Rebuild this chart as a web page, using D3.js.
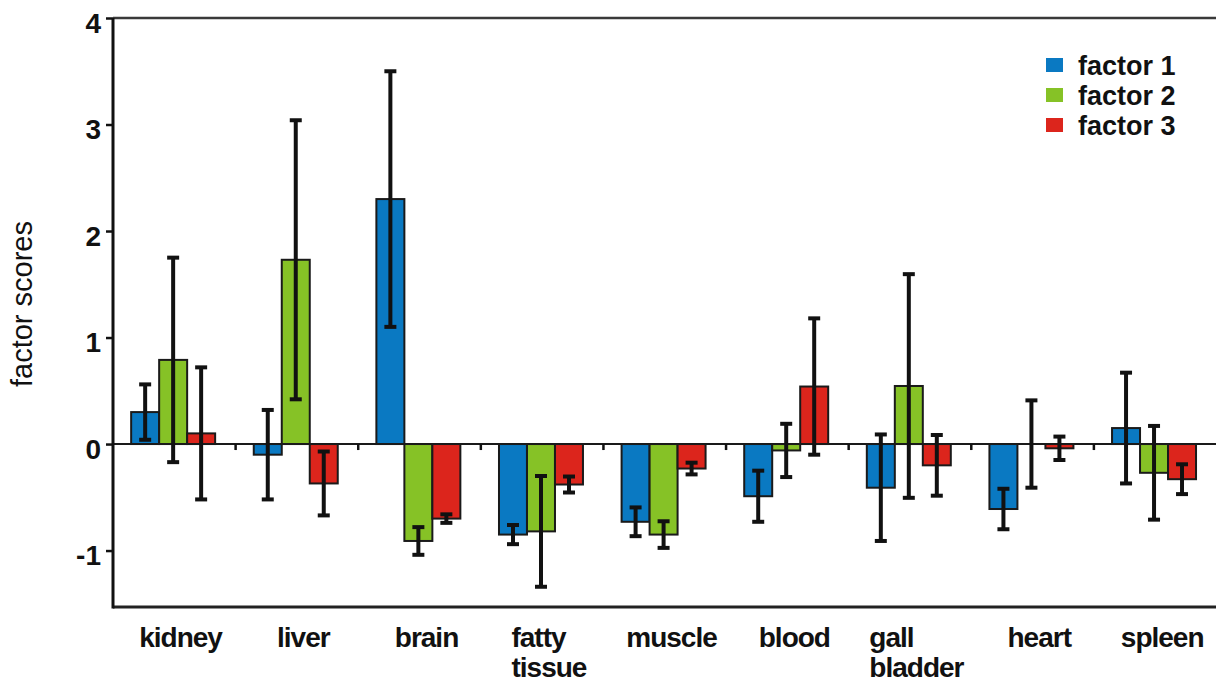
<!DOCTYPE html>
<html>
<head>
<meta charset="utf-8">
<script src="https://cdn.jsdelivr.net/npm/d3@7"></script>
<style>
  body { margin: 0; background: #fff; }
  svg { display: block; font-family: "Liberation Sans", Arial, sans-serif; }
</style>
</head>
<body>
<svg id="chart" width="1216" height="682"></svg>
<script>
"use strict";

// values
const categories = ["kidney", "liver", "brain", "fatty tissue", "muscle", "blood", "gall bladder", "heart", "spleen"];
const series = ["factor 1", "factor 2", "factor 3"];
const factor1 = [0.30, -0.10, 2.30, -0.85, -0.73, -0.49, -0.41, -0.61, 0.15];
const factor1_err = [0.26, 0.42, 1.20, 0.09, 0.135, 0.24, 0.50, 0.19, 0.52];
const factor2 = [0.79, 1.73, -0.91, -0.82, -0.85, -0.06, 0.545, 0.0, -0.27];
const factor2_err = [0.96, 1.31, 0.13, 0.52, 0.125, 0.25, 1.05, 0.41, 0.44];
const factor3 = [0.10, -0.37, -0.70, -0.38, -0.23, 0.54, -0.20, -0.04, -0.33];
const factor3_err = [0.62, 0.30, 0.04, 0.075, 0.055, 0.64, 0.285, 0.11, 0.14];
const y_ticks = [-1, 0, 1, 2, 3, 4];

const colors = ["#0a79c2", "#86c226", "#dc251c"];
const ink = "#111";

const svg = d3.select("#chart");

const x = d3.scaleBand()
    .domain(categories)
    .range([113, 1216.5])
    .padding(0);
const xSub = d3.scaleBand()
    .domain(series)
    .range([0, x.bandwidth()])
    .paddingInner(0)
    .paddingOuter(0.69)
    .align(0.47);
const y = d3.scaleLinear()
    .domain([-1.53, 4])
    .range([607, 18]);

const values = [factor1, factor2, factor3];
const errors = [factor1_err, factor2_err, factor3_err];
const rows = [];
categories.forEach((c, i) => {
    series.forEach((s, j) => {
        rows.push({cat: c, s: s, j: j, v: values[j][i], e: errors[j][i]});
    });
});

// frame lines (top and bottom)
svg.append("line")
    .attr("x1", 113).attr("x2", 1216)
    .attr("y1", y(4)).attr("y2", y(4))
    .attr("stroke", "#3a3a3a").attr("stroke-width", 2.5);
svg.append("line")
    .attr("x1", 113).attr("x2", 1216)
    .attr("y1", y.range()[0]).attr("y2", y.range()[0])
    .attr("stroke", "#222").attr("stroke-width", 3);

// bars
svg.append("g")
    .selectAll("rect")
    .data(rows)
    .join("rect")
    .attr("x", d => x(d.cat) + xSub(d.s))
    .attr("width", xSub.bandwidth())
    .attr("y", d => y(Math.max(0, d.v)))
    .attr("height", d => Math.abs(y(d.v) - y(0)))
    .attr("fill", d => colors[d.j])
    .attr("stroke", "#1a1a1a")
    .attr("stroke-width", 2);

// zero line and group separator ticks
svg.append("line")
    .attr("x1", 113).attr("x2", 1216)
    .attr("y1", y(0)).attr("y2", y(0))
    .attr("stroke", "#1a1a1a").attr("stroke-width", 2);
svg.append("g")
    .selectAll("line")
    .data(categories.slice(1))
    .join("line")
    .attr("x1", d => x(d)).attr("x2", d => x(d))
    .attr("y1", y(0)).attr("y2", y(0) + 6)
    .attr("stroke", ink).attr("stroke-width", 2.5);

// error bars
const cap = 6;
const eg = svg.append("g")
    .attr("stroke", ink)
    .attr("stroke-width", 4);
rows.forEach(d => {
    const cx = x(d.cat) + xSub(d.s) + xSub.bandwidth() / 2;
    const top = y(d.v + d.e);
    const bot = y(d.v - d.e);
    eg.append("line").attr("x1", cx).attr("x2", cx).attr("y1", top).attr("y2", bot);
    eg.append("line").attr("x1", cx - cap).attr("x2", cx + cap).attr("y1", top).attr("y2", top);
    eg.append("line").attr("x1", cx - cap).attr("x2", cx + cap).attr("y1", bot).attr("y2", bot);
});

// left axis
const yAxis = svg.append("g")
    .attr("transform", "translate(113,0)")
    .call(d3.axisLeft(y).tickValues(y_ticks).tickFormat(d => String(d)).tickSizeOuter(0).tickSize(7).tickPadding(5));
yAxis.select(".domain")
    .attr("d", `M0,${y(4)}V${y.range()[0] + 1.5}`)
    .attr("stroke", ink).attr("stroke-width", 3);
yAxis.selectAll(".tick line").attr("stroke", ink).attr("stroke-width", 2.5);
yAxis.selectAll(".tick text")
    .attr("dy", "0.5em")
    .attr("fill", ink)
    .attr("font-size", 28)
    .attr("font-weight", "bold")
    .attr("font-family", "'Liberation Sans', Arial, sans-serif");

// y title
svg.append("text")
    .attr("transform", `translate(32,${(218 + 390) / 2}) rotate(-90)`)
    .attr("text-anchor", "middle")
    .attr("font-size", 29)
    .attr("fill", ink)
    .text("factor scores");

// category labels, split in two lines where needed
const labels = svg.append("g")
    .attr("font-size", 28)
    .attr("font-weight", "bold")
    .attr("letter-spacing", -1)
    .attr("fill", ink);
categories.forEach(c => {
    const lines = c.split(" ");
    const t = labels.append("text").attr("y", 647);
    lines.forEach((ln, k) => {
        t.append("tspan").attr("x", 0).attr("dy", k === 0 ? 0 : 30).text(ln);
    });
    const w = t.node().getBBox().width;
    t.attr("transform", `translate(${x(c) + x.bandwidth() / 2 - w / 2 + 7},0)`);
});

// legend
const legend = svg.append("g")
    .attr("transform", "translate(1046,0)");
series.forEach((s, j) => {
    const by = 75 + j * 30;
    legend.append("rect")
        .attr("x", 0).attr("y", by - 17)
        .attr("width", 17).attr("height", 14)
        .attr("fill", colors[j]);
    legend.append("text")
        .attr("x", 32).attr("y", by)
        .attr("font-size", 27)
        .attr("font-weight", "bold")
        .attr("fill", ink)
        .text(s);
});
</script>
</body>
</html>
